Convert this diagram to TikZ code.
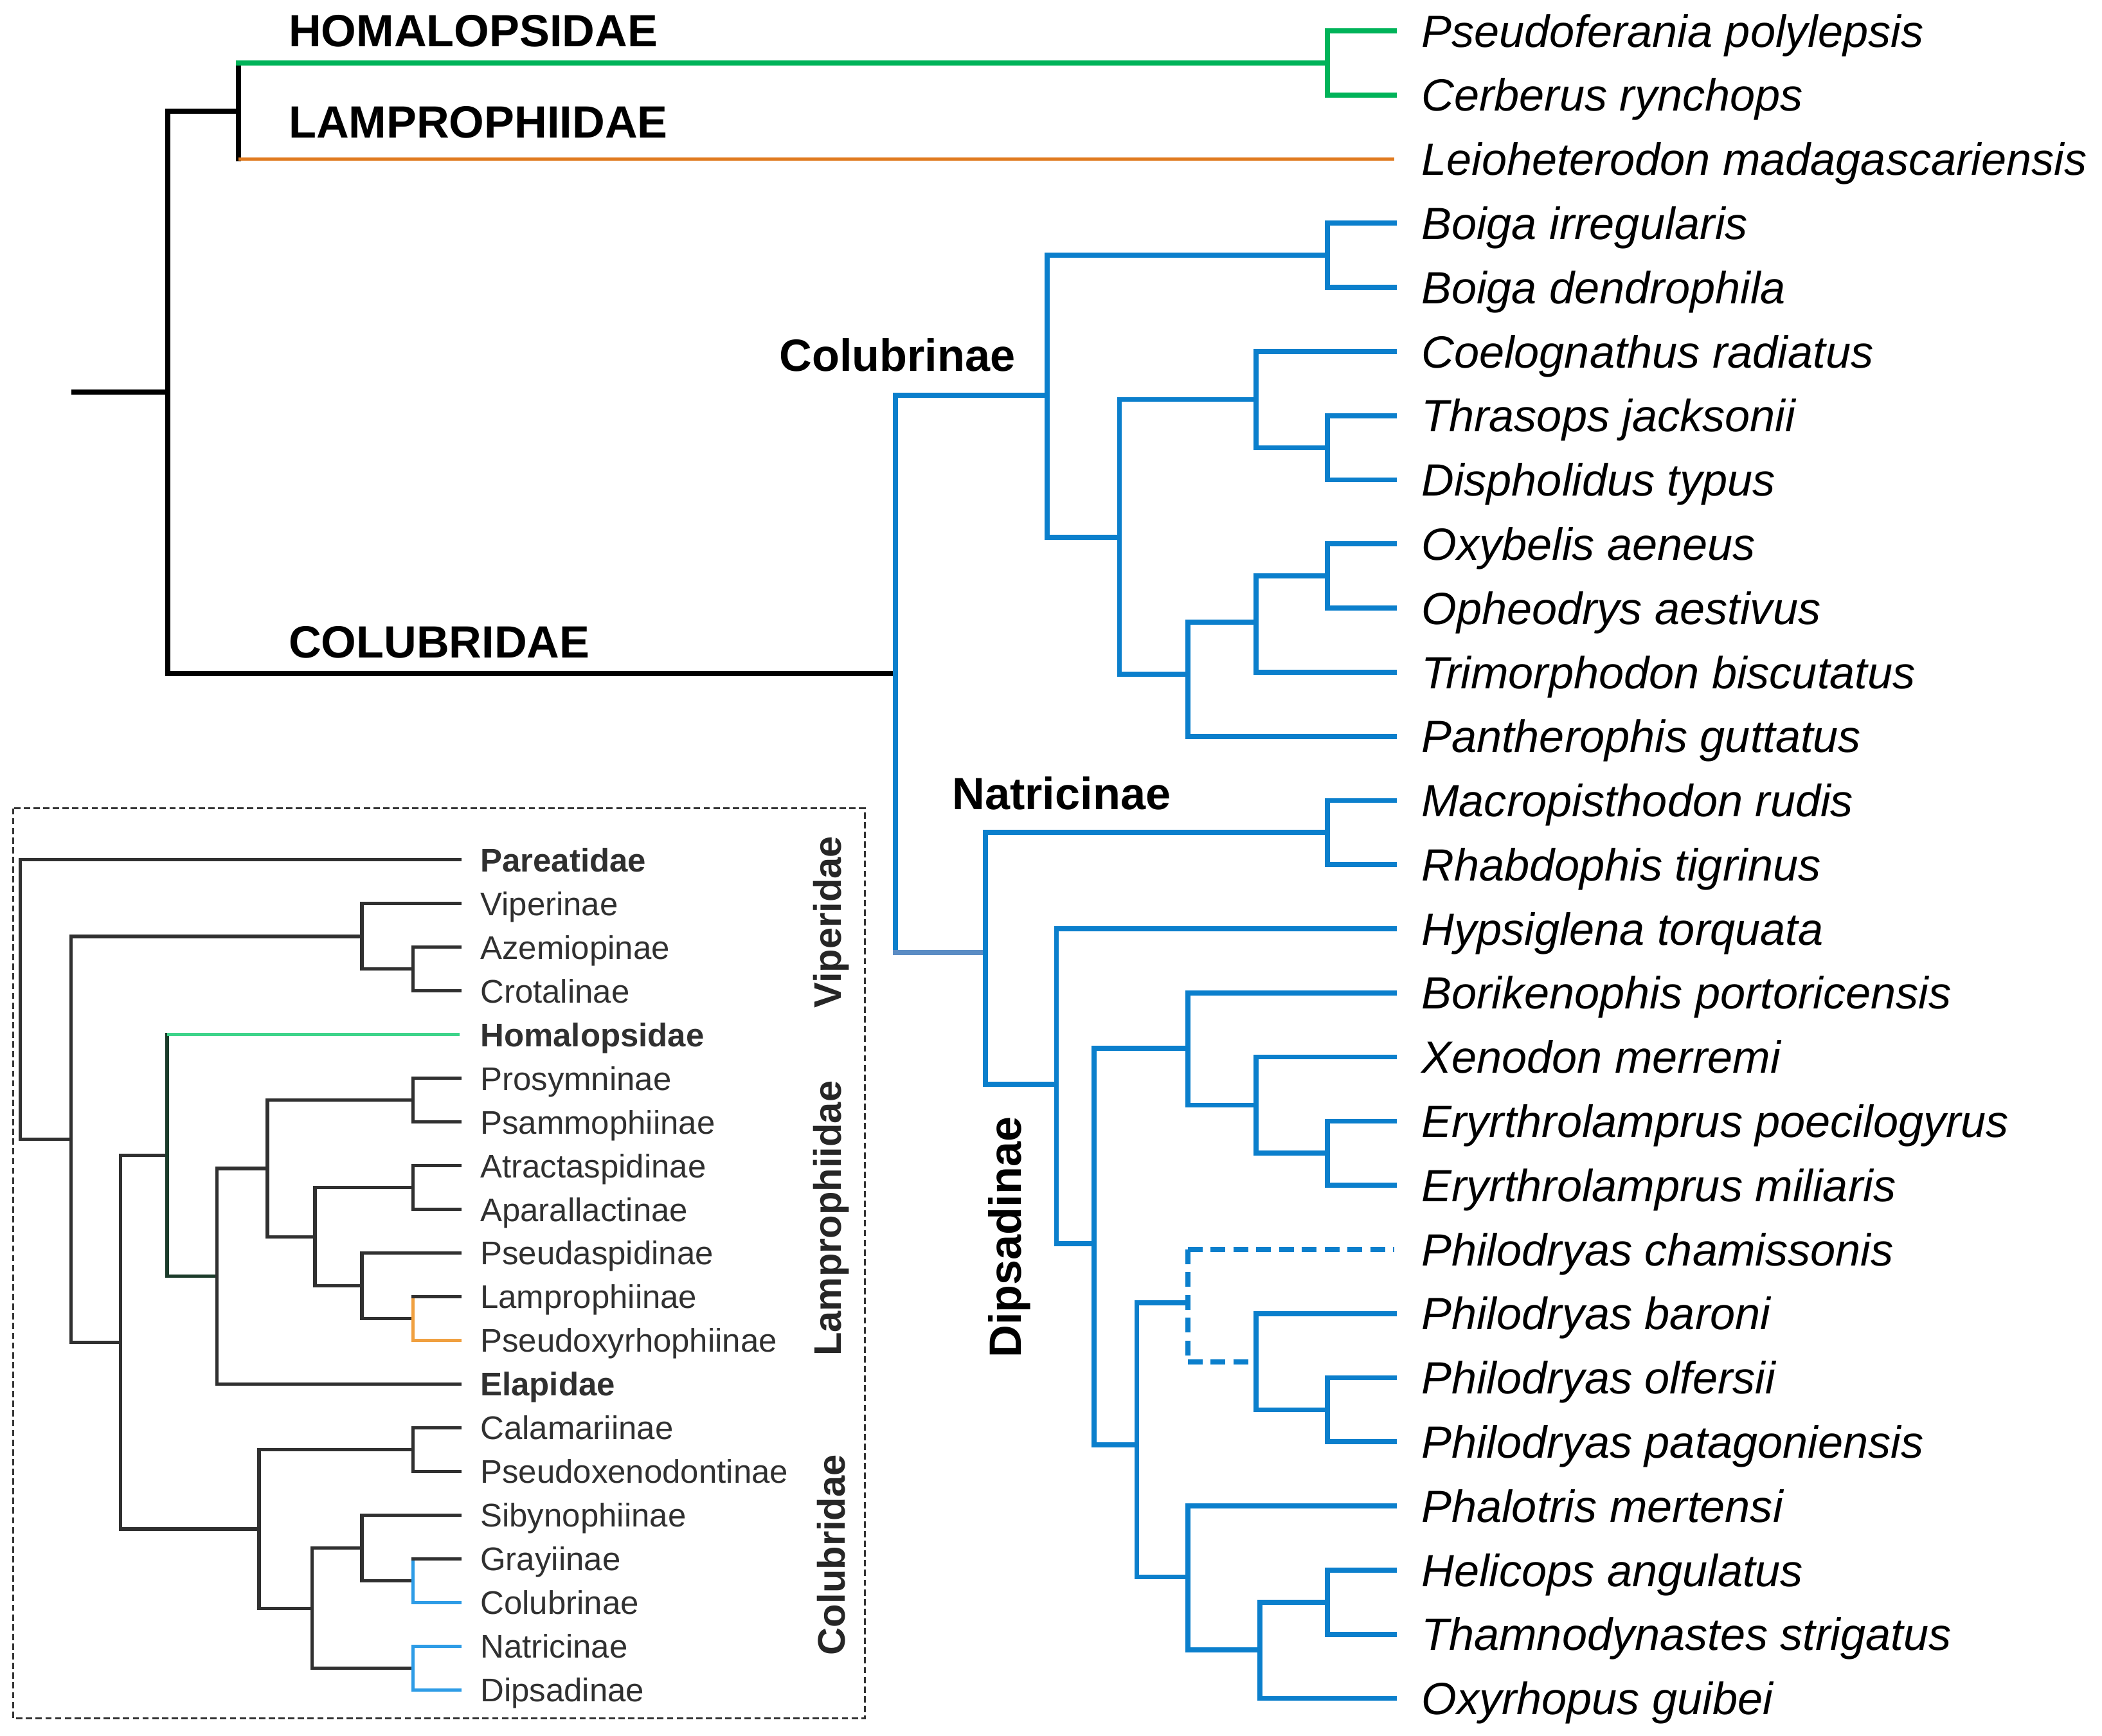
\documentclass[tikz,border=0pt]{standalone}
\usepackage{fontspec}
\setmainfont{Liberation Sans}
\definecolor{mgreen}{HTML}{00B359}
\definecolor{mblue}{HTML}{0B7FCC}
\definecolor{morange}{HTML}{E07A1F}
\definecolor{mgblue}{HTML}{5B8CC4}
\definecolor{ingreen}{HTML}{3ED48A}
\definecolor{indkgreen}{HTML}{1B3B2A}
\definecolor{inorange}{HTML}{F0A040}
\definecolor{inblue}{HTML}{2E9CE6}
\definecolor{ingray}{HTML}{303030}
\newcommand\treebr[6]{%
  \draw[#4] (#2 -| #1) -- (#3 -| #1);
  \draw[#5] (#2 -| #1) -- (#2);
  \draw[#6] (#3 -| #1) -- (#3);}
\begin{document}
\begin{tikzpicture}[x=0.020855cm,y=-0.020855cm,
  mk/.style={line width=2.2pt,black,line cap=rect},
  mg/.style={line width=2.2pt,mgreen,line cap=rect},
  mb/.style={line width=2.2pt,mblue,line cap=rect},
  mbd/.style={line width=2.2pt,mblue,dash pattern=on 6.5pt off 3.6pt},
  mgb/.style={line width=2.2pt,mgblue,line cap=rect},
  mo/.style={line width=1.3pt,morange},
  ik/.style={line width=1.5pt,ingray,line cap=rect},
  idg/.style={line width=1.5pt,indkgreen,line cap=rect},
  ig/.style={line width=1.5pt,ingreen},
  io/.style={line width=1.5pt,inorange,line cap=rect},
  ib/.style={line width=1.5pt,inblue,line cap=rect},
  leaf/.style={anchor=base west,inner sep=0pt,yshift=-7.16pt,font=\fontsize{20}{24}\selectfont\itshape},
  clade/.style={anchor=base west,inner sep=0pt,font=\fontsize{20}{24}\selectfont\bfseries},
  ileaf/.style={anchor=base west,inner sep=0pt,yshift=-5.2pt,text=ingray,font=\fontsize{14.5}{17}\selectfont},
  ifam/.style={rotate=90,inner sep=0pt,text=black!85,font=\fontsize{17}{20}\selectfont\bfseries}]
\useasboundingbox (0,0) rectangle (1568,1294.7);
% ---------- main tree: leaves ----------
\foreach \n [count=\i from 0] in {Pseudoferania polylepsis,Cerberus rynchops,Leioheterodon madagascariensis,Boiga irregularis,Boiga dendrophila,Coelognathus radiatus,Thrasops jacksonii,Dispholidus typus,Oxybelis aeneus,Opheodrys aestivus,Trimorphodon biscutatus,Pantherophis guttatus,Macropisthodon rudis,Rhabdophis tigrinus,Hypsiglena torquata,Borikenophis portoricensis,Xenodon merremi,Eryrthrolamprus poecilogyrus,Eryrthrolamprus miliaris,Philodryas chamissonis,Philodryas baroni,Philodryas olfersii,Philodryas patagoniensis,Phalotris mertensi,Helicops angulatus,Thamnodynastes strigatus,Oxyrhopus guibei}{
  \pgfmathsetmacro\yy{23+47.85*\i}
  \coordinate (m\i) at (1040,\yy);
  \node[leaf] (t\i) at (1060,\yy) {\n};
}
% ---------- main tree: internal nodes ----------
\coordinate (r0) at (55,292.6);
\coordinate (R) at (125,292.6);
\coordinate (U) at (178,82.8);
\coordinate (H) at (990,46.9);
\coordinate (C) at (668,502.5);
\coordinate (Cb) at (781,295);
\coordinate (B1) at (990,190.5);
\coordinate (X) at (835,401);
\coordinate (Y) at (937,298);
\coordinate (T) at (990,334);
\coordinate (Z) at (886,503);
\coordinate (W) at (937,464);
\coordinate (O) at (990,429.7);
\coordinate (Nd) at (735,710.5);
\coordinate (Nat) at (990,621);
\coordinate (D) at (788,809);
\coordinate (E) at (816,928);
\coordinate (F) at (886,782);
\coordinate (F2) at (937,824.5);
\coordinate (F3) at (990,860.4);
\coordinate (G) at (848,1078);
\coordinate (P) at (886,972);
\coordinate (P2) at (937,1015.9);
\coordinate (P3) at (990,1051.8);
\coordinate (Q) at (886,1176.5);
\coordinate (Q2) at (940,1231);
\coordinate (Q3) at (990,1195.3);
\draw[mk] (r0) -- (R);
\treebr{R}{U}{C}{mk}{mk}{mk}
\treebr{U}{H}{m2}{mk}{mg}{mo}
\treebr{H}{m0}{m1}{mg}{mg}{mg}
\treebr{C}{Cb}{Nd}{mb}{mb}{mgb}
\treebr{Cb}{B1}{X}{mb}{mb}{mb}
\treebr{B1}{m3}{m4}{mb}{mb}{mb}
\treebr{X}{Y}{Z}{mb}{mb}{mb}
\treebr{Y}{m5}{T}{mb}{mb}{mb}
\treebr{T}{m6}{m7}{mb}{mb}{mb}
\treebr{Z}{W}{m11}{mb}{mb}{mb}
\treebr{W}{O}{m10}{mb}{mb}{mb}
\treebr{O}{m8}{m9}{mb}{mb}{mb}
\treebr{Nd}{Nat}{D}{mb}{mb}{mb}
\treebr{Nat}{m12}{m13}{mb}{mb}{mb}
\treebr{D}{m14}{E}{mb}{mb}{mb}
\treebr{E}{F}{G}{mb}{mb}{mb}
\treebr{F}{m15}{F2}{mb}{mb}{mb}
\treebr{F2}{m16}{F3}{mb}{mb}{mb}
\treebr{F3}{m17}{m18}{mb}{mb}{mb}
\treebr{G}{P}{Q}{mb}{mb}{mb}
\treebr{P}{m19}{P2}{mbd}{mbd}{mbd}
\treebr{P2}{m20}{P3}{mb}{mb}{mb}
\treebr{P3}{m21}{m22}{mb}{mb}{mb}
\treebr{Q}{m23}{Q2}{mb}{mb}{mb}
\treebr{Q2}{Q3}{m26}{mb}{mb}{mb}
\treebr{Q3}{m24}{m25}{mb}{mb}{mb}
% ---------- clade labels ----------
\node[clade] (lhom) at (215,35) {HOMALOPSIDAE};
\node[clade] (llam) at (215,103) {LAMPROPHIIDAE};
\node[clade] (lcol) at (215,491) {COLUBRIDAE};
\node[clade] (lcolb) at (581,277) {Colubrinae};
\node[clade] (lnat) at (710,604) {Natricinae};
\node[rotate=90,inner sep=0pt,font=\fontsize{20}{24}\selectfont\bfseries] (ldip) at (753,923) {Dipsadinae};
% ---------- inset ----------
\coordinate (bx1) at (10,603);
\coordinate (bx2) at (645,1282);
\draw[line width=0.8pt,black!80,dash pattern=on 2.8pt off 1.5pt] (bx1) rectangle (bx2);
\foreach \n [count=\i from 0] in {\textbf{Pareatidae},Viperinae,Azemiopinae,Crotalinae,\textbf{Homalopsidae},Prosymninae,Psammophiinae,Atractaspidinae,Aparallactinae,Pseudaspidinae,Lamprophiinae,Pseudoxyrhophiinae,\textbf{Elapidae},Calamariinae,Pseudoxenodontinae,Sibynophiinae,Grayiinae,Colubrinae,Natricinae,Dipsadinae}{
  \pgfmathsetmacro\yy{641.5+32.6*\i}
  \coordinate (k\i) at (343,\yy);
  \node[ileaf] (s\i) at (358,\yy) {\n};
}
\coordinate (ir0) at (15,745);
\coordinate (ia1) at (53,850);
\coordinate (iV) at (270,698.6);
\coordinate (iV2) at (308,723);
\coordinate (ia2) at (90,1001.4);
\coordinate (ib1) at (124.7,862);
\coordinate (ic1) at (162,952.2);
\coordinate (id1) at (199.5,871.8);
\coordinate (ie1) at (308,820.8);
\coordinate (ie2) at (235,922.7);
\coordinate (if1) at (308,886);
\coordinate (if2) at (270,959.4);
\coordinate (ig1) at (308,983.8);
\coordinate (ib2) at (193.3,1140.7);
\coordinate (ih1) at (308,1081.6);
\coordinate (ih2) at (232.8,1199.8);
\coordinate (ii1) at (270,1155);
\coordinate (ij1) at (308,1179.4);
\coordinate (ii2) at (308,1244.6);
\treebr{ir0}{k0}{ia1}{ik}{ik}{ik}
\treebr{ia1}{iV}{ia2}{ik}{ik}{ik}
\treebr{iV}{k1}{iV2}{ik}{ik}{ik}
\treebr{iV2}{k2}{k3}{ik}{ik}{ik}
\treebr{ia2}{ib1}{ib2}{ik}{ik}{ik}
\treebr{ib1}{k4}{ic1}{idg}{ig}{idg}
\treebr{ic1}{id1}{k12}{ik}{ik}{ik}
\treebr{id1}{ie1}{ie2}{ik}{ik}{ik}
\treebr{ie1}{k5}{k6}{ik}{ik}{ik}
\treebr{ie2}{if1}{if2}{ik}{ik}{ik}
\treebr{if1}{k7}{k8}{ik}{ik}{ik}
\treebr{if2}{k9}{ig1}{ik}{ik}{ik}
\treebr{ig1}{k10}{k11}{io}{ik}{io}
\treebr{ib2}{ih1}{ih2}{ik}{ik}{ik}
\treebr{ih1}{k13}{k14}{ik}{ik}{ik}
\treebr{ih2}{ii1}{ii2}{ik}{ik}{ik}
\treebr{ii1}{k15}{ij1}{ik}{ik}{ik}
\treebr{ij1}{k16}{k17}{ib}{ik}{ib}
\treebr{ii2}{k18}{k19}{ib}{ib}{ib}
\node[ifam] (fvip) at (620,688) {Viperidae};
\node[ifam] (flam) at (620,909) {Lamprophiidae};
\node[ifam] (fcol) at (620,1160) {Colubridae};
\end{tikzpicture}
\end{document}
